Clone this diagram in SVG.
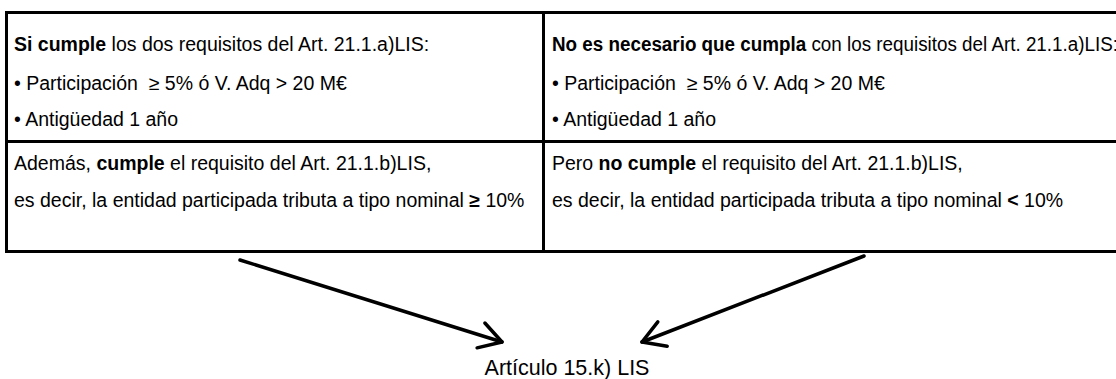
<svg xmlns="http://www.w3.org/2000/svg" width="1116" height="379" viewBox="0 0 1116 379">
<defs>
<style>
.t{font-family:"Liberation Sans",Arial,sans-serif;font-size:19.5px;fill:#000}
.b{font-weight:bold}
.grid{stroke:#000;stroke-width:3;fill:none}
.arr{stroke:#000;stroke-width:3.5;fill:none;stroke-linecap:round}
.lbl{font-family:"Liberation Sans",Arial,sans-serif;font-size:21.5px;fill:#000}
</style>
<marker id="open" viewBox="0 0 30 30" refX="27" refY="15" markerWidth="30" markerHeight="30" markerUnits="userSpaceOnUse" orient="auto">
<path d="M5,2 L27,15 L5,28" fill="none" stroke="#000" stroke-width="3.5" stroke-linecap="round" stroke-linejoin="round"/>
</marker>
</defs>
<rect width="1116" height="379" fill="#fff"/>
<g id="table" class="grid">
<rect x="6.5" y="12.5" width="1115" height="239"/>
<line x1="6.5" y1="141.5" x2="1116" y2="141.5"/>
<line x1="543.5" y1="12.5" x2="543.5" y2="251.5"/>
</g>
<g id="cell-a1">
<text class="t" x="14" y="51"><tspan class="b">Si cumple</tspan> los dos requisitos del Art. 21.1.a)LIS:</text>
<text class="t" x="14" y="90" xml:space="preserve">• Participación  ≥ 5% ó V. Adq &gt; 20 M€</text>
<text class="t" x="14" y="126">• Antigüedad 1 año</text>
</g>
<g id="cell-b1">
<text class="t" x="552" y="51" textLength="566" lengthAdjust="spacingAndGlyphs"><tspan class="b">No es necesario que cumpla</tspan> con los requisitos del Art. 21.1.a)LIS:</text>
<text class="t" x="552" y="90" xml:space="preserve">• Participación  ≥ 5% ó V. Adq &gt; 20 M€</text>
<text class="t" x="552" y="126">• Antigüedad 1 año</text>
</g>
<g id="cell-a2">
<text class="t" x="14" y="170">Además, <tspan class="b">cumple</tspan> el requisito del Art. 21.1.b)LIS,</text>
<text class="t" x="14" y="207">es decir, la entidad participada tributa a tipo nominal <tspan class="b">≥</tspan> 10%</text>
</g>
<g id="cell-b2">
<text class="t" x="552" y="170">Pero <tspan class="b">no cumple</tspan> el requisito del Art. 21.1.b)LIS,</text>
<text class="t" x="552" y="207">es decir, la entidad participada tributa a tipo nominal <tspan class="b">&lt;</tspan> 10%</text>
</g>
<g id="connectors">
<line class="arr" x1="240" y1="260" x2="502" y2="342" marker-end="url(#open)"/>
<line class="arr" x1="864" y1="256" x2="642" y2="342" marker-end="url(#open)"/>
</g>
<g id="result">
<text class="lbl" x="567" y="375" text-anchor="middle">Artículo 15.k) LIS</text>
</g>
</svg>
